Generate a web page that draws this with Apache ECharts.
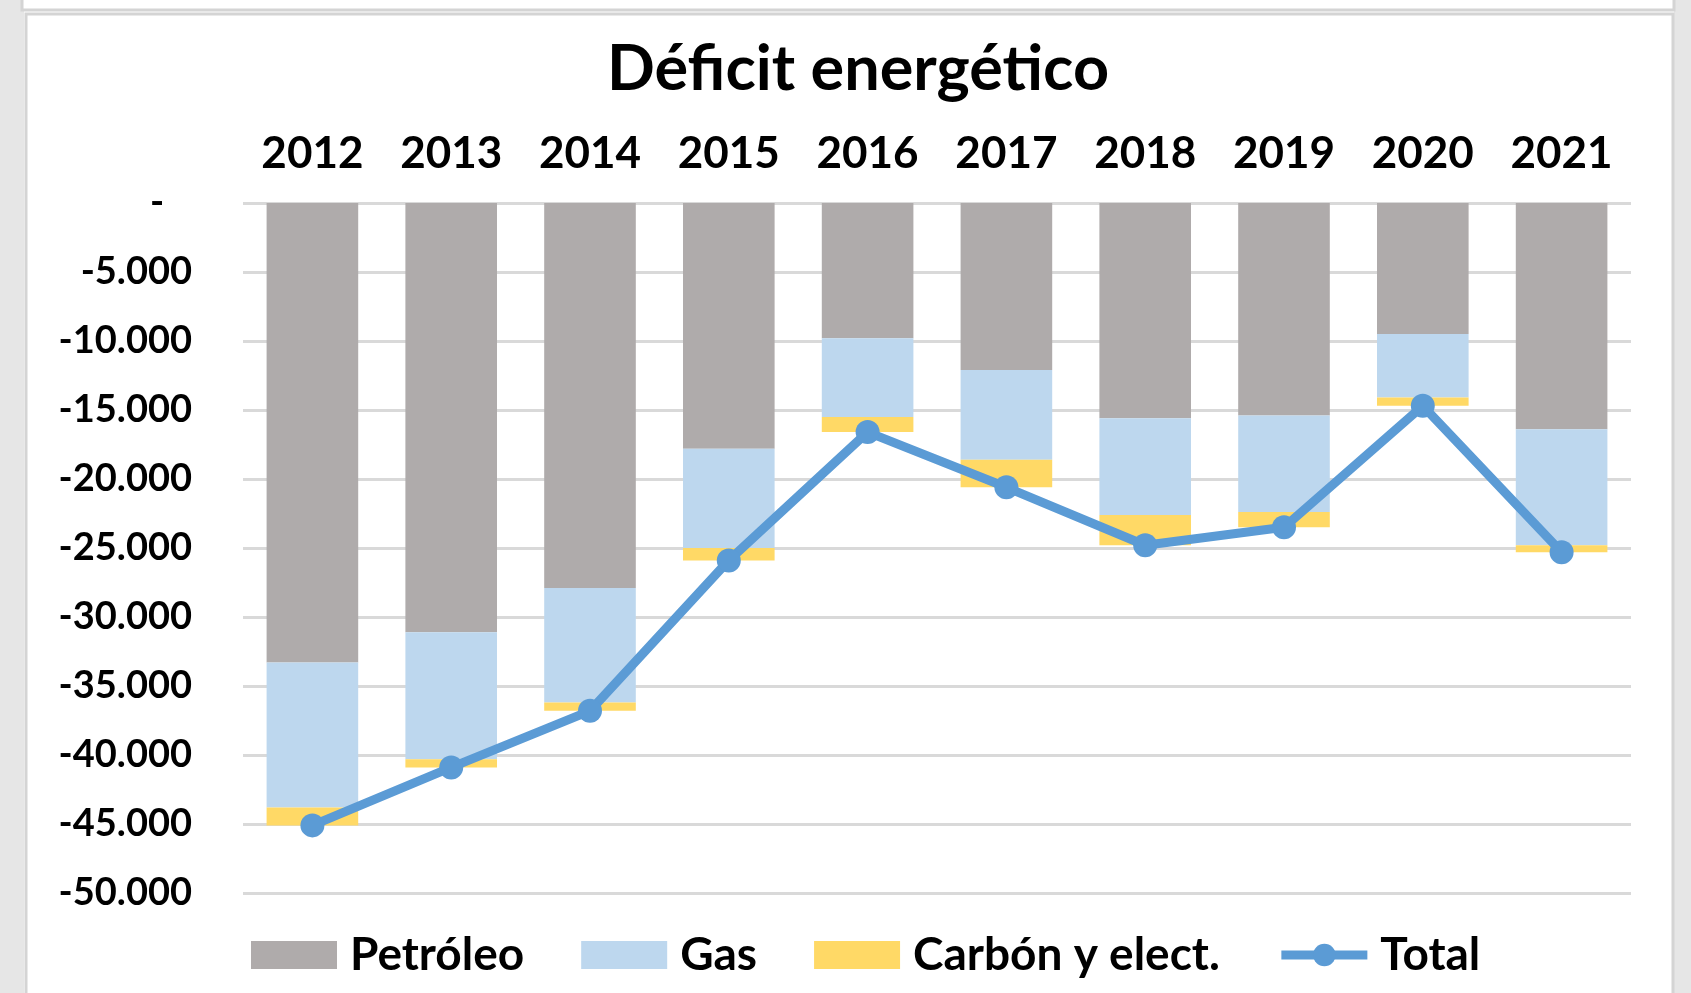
<!DOCTYPE html>
<html>
<head>
<meta charset="utf-8">
<script src="https://cdn.jsdelivr.net/npm/echarts@6/dist/echarts.min.js"></script>
<style>
  html, body { margin: 0; padding: 0; background: #fff; }
  #main { width: 1691px; height: 993px; }
</style>
</head>
<body>
<div id="main"></div>
<script>
// datos (millones de euros)
var years = ['2012', '2013', '2014', '2015', '2016', '2017', '2018', '2019', '2020', '2021'];
var petroleo = [-33300, -31100, -27900, -17800, -9800, -12100, -15600, -15400, -9500, -16400];
var gas = [-10500, -9200, -8300, -7200, -5700, -6500, -7000, -7000, -4600, -8400];
var carbon = [-1300, -600, -600, -900, -1100, -2000, -2200, -1100, -600, -500];
var total = [-45100, -40900, -36800, -25900, -16600, -20600, -24800, -23500, -14700, -25300];

var fuente = 'Lato, sans-serif';

function fmt(v) {
    if (v === 0) return '-   ';
    var s = String(Math.abs(v)).replace(/\B(?=(\d{3})+(?!\d))/g, '.');
    return (v < 0 ? '-' : '') + s;
}

var myChart = echarts.init(document.getElementById('main'));

var option = {
    backgroundColor: '#fff',
    animation: false,
    title: {
        text: 'Déficit energético',
        left: 853,
        textAlign: 'center',
        top: 33,
        textStyle: {
            fontFamily: fuente,
            fontWeight: 'bold',
            fontSize: 63,
            color: '#000'
        }
    },
    graphic: [
        // marco de la imagen original
        { type: 'rect', shape: { x: 0, y: 0, width: 24, height: 993 }, style: { fill: '#e6e6e6' }, silent: true },
        { type: 'rect', shape: { x: 1674, y: 0, width: 17, height: 993 }, style: { fill: '#e6e6e6' }, silent: true },
        { type: 'rect', shape: { x: 22, y: -10, width: 1652, height: 20 }, style: { fill: '#fff', stroke: '#d4d4d4', lineWidth: 3 }, silent: true },
        { type: 'rect', shape: { x: 26, y: 14, width: 1647, height: 1000 }, style: { fill: 'none', stroke: '#d4d4d4', lineWidth: 3 }, silent: true }
    ],
    legend: {
        left: 246,
        top: 927,
        itemWidth: 86,
        itemHeight: 28,
        itemGap: 57,
        lineStyle: { width: 9 },
        textStyle: {
            fontFamily: fuente,
            fontWeight: 'bold',
            fontSize: 46,
            color: '#000',
            padding: [0, 0, 0, 8]
        },
        data: [
            { name: 'Petróleo', icon: 'rect' },
            { name: 'Gas', icon: 'rect' },
            { name: 'Carbón y elect.', icon: 'rect' },
            'Total'
        ]
    },
    grid: {
        left: 243,
        right: 60,
        top: 203,
        bottom: 100,
        containLabel: false
    },
    xAxis: {
        type: 'category',
        position: 'top',
        data: years,
        axisLine: { show: false },
        axisTick: { show: false },
        axisLabel: {
            interval: 0,
            margin: 27,
            fontFamily: fuente,
            fontWeight: 'bold',
            fontSize: 44,
            color: '#000'
        }
    },
    yAxis: {
        type: 'value',
        min: -50000,
        max: 0,
        interval: 5000,
        axisLine: { show: false },
        axisTick: { show: false },
        axisLabel: {
            margin: 51,
            fontFamily: fuente,
            fontWeight: 'bold',
            fontSize: 38,
            color: '#000',
            formatter: fmt
        },
        splitLine: { lineStyle: { color: '#d9d9d9', width: 3 } }
    },
    series: [
        {
            name: 'Petróleo',
            type: 'bar',
            stack: 'deficit',
            barWidth: '66%',
            itemStyle: { color: '#afabab' },
            data: petroleo
        },
        {
            name: 'Gas',
            type: 'bar',
            stack: 'deficit',
            itemStyle: { color: '#bdd7ee' },
            data: gas
        },
        {
            name: 'Carbón y elect.',
            type: 'bar',
            stack: 'deficit',
            itemStyle: { color: '#ffd966' },
            data: carbon
        },
        {
            name: 'Total',
            type: 'line',
            z: 5,
            symbol: 'circle',
            symbolSize: 24,
            lineStyle: { color: '#5b9bd5', width: 9 },
            itemStyle: { color: '#5b9bd5' },
            data: total
        }
    ]
};

myChart.setOption(option);
</script>
</body>
</html>
